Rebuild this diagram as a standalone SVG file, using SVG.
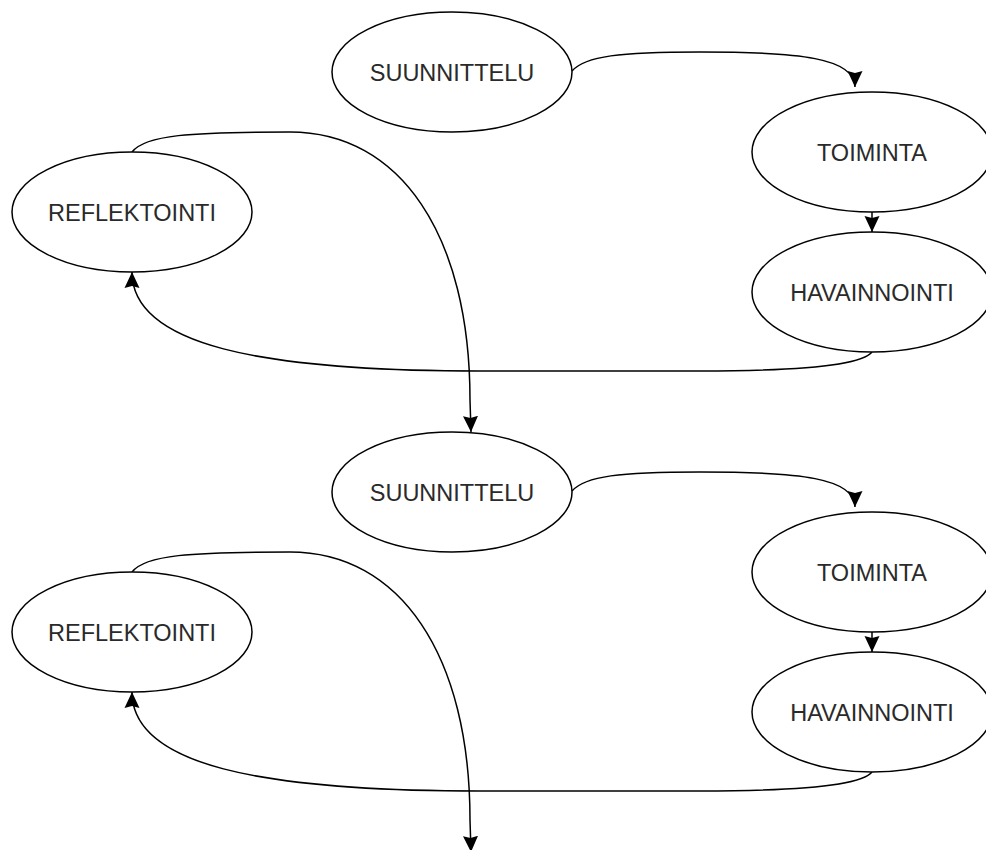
<svg xmlns="http://www.w3.org/2000/svg" width="986" height="850" viewBox="0 0 986 850">
  <style>
    .node ellipse { fill: #ffffff; stroke: #000000; stroke-width: 1.5; }
    .node text { font-family: "Liberation Sans", Arial, Helvetica, sans-serif; font-size: 23.5px; fill: #2a2a2a; text-anchor: middle; }
    .edge { fill: none; stroke: #000000; stroke-width: 1.5; marker-end: url(#arrow); }
  </style>
  <defs>
    <!-- block arrowhead with a shallow notch, sized in user units -->
    <marker id="arrow" markerUnits="userSpaceOnUse" viewBox="0 0 16 16" refX="16" refY="8" markerWidth="16" markerHeight="16" orient="auto">
      <path d="M0,0.5 L16,8 L0,15.5 L2,8 Z" fill="#000000"/>
    </marker>
  </defs>
  <rect width="986" height="850" fill="#ffffff"/>

  <!-- first cycle -->
  <g id="connectors-1">
    <path class="edge" d="M 572 71 C 585 56, 620 52, 700 52 C 800 52, 855 58, 855 87"/>
    <path class="edge" d="M 872 212 L 872 232"/>
    <path class="edge" d="M 872 352 C 862 365, 800 371, 700 371 L 480 371 C 260 371, 132 345, 132 272"/>
    <path class="edge" d="M 132 152 C 145 135, 190 132, 290 132 C 400 132, 470 235, 470 400 L 471 432"/>
  </g>
  <g id="suunnittelu-1" class="node">
    <ellipse cx="452" cy="72" rx="120" ry="60"/>
    <text x="452" y="81">SUUNNITTELU</text>
  </g>
  <g id="toiminta-1" class="node">
    <ellipse cx="872" cy="152" rx="120" ry="60"/>
    <text x="872" y="161">TOIMINTA</text>
  </g>
  <g id="havainnointi-1" class="node">
    <ellipse cx="872" cy="292" rx="120" ry="60"/>
    <text x="872" y="301">HAVAINNOINTI</text>
  </g>
  <g id="reflektointi-1" class="node">
    <ellipse cx="132" cy="212" rx="120" ry="60"/>
    <text x="132" y="221">REFLEKTOINTI</text>
  </g>

  <!-- second cycle -->
  <g id="connectors-2">
    <path class="edge" d="M 572 491 C 585 476, 620 472, 700 472 C 800 472, 855 478, 855 507"/>
    <path class="edge" d="M 872 632 L 872 652"/>
    <path class="edge" d="M 872 772 C 862 785, 800 791, 700 791 L 480 791 C 260 791, 132 765, 132 692"/>
    <path class="edge" d="M 132 572 C 145 555, 190 552, 290 552 C 400 552, 470 655, 470 820 L 471 852"/>
  </g>
  <g id="suunnittelu-2" class="node">
    <ellipse cx="452" cy="492" rx="120" ry="60"/>
    <text x="452" y="501">SUUNNITTELU</text>
  </g>
  <g id="toiminta-2" class="node">
    <ellipse cx="872" cy="572" rx="120" ry="60"/>
    <text x="872" y="581">TOIMINTA</text>
  </g>
  <g id="havainnointi-2" class="node">
    <ellipse cx="872" cy="712" rx="120" ry="60"/>
    <text x="872" y="721">HAVAINNOINTI</text>
  </g>
  <g id="reflektointi-2" class="node">
    <ellipse cx="132" cy="632" rx="120" ry="60"/>
    <text x="132" y="641">REFLEKTOINTI</text>
  </g>
</svg>
